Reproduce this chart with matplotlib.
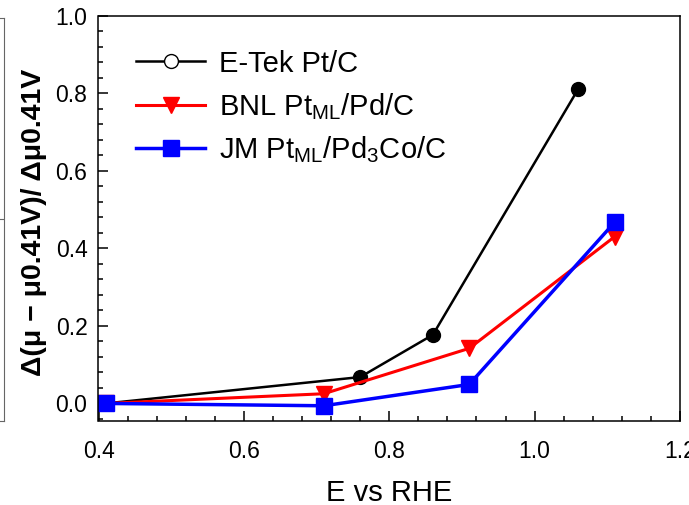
import numpy as np
import matplotlib
matplotlib.use('Agg')
import matplotlib.pyplot as plt
from matplotlib.lines import Line2D
from matplotlib.ticker import MultipleLocator, FormatStrFormatter

plt.rcParams['font.family'] = ['Liberation Sans', 'DejaVu Sans']
plt.rcParams['mathtext.fontset'] = 'custom'
plt.rcParams['mathtext.rm'] = 'Liberation Sans'
plt.rcParams['mathtext.default'] = 'regular'

# data
etek_x = [0.41, 0.76, 0.86, 1.06]
etek_y = [0.0, 0.068, 0.177, 0.811]
bnl_x = [0.41, 0.71, 0.91, 1.11]
bnl_y = [0.0, 0.025, 0.142, 0.43]
jm_x = [0.41, 0.71, 0.91, 1.11]
jm_y = [0.0, -0.006, 0.049, 0.467]

labels = ['E-Tek Pt/C', 'BNL Pt$_{ML}$/Pd/C', 'JM Pt$_{ML}$/Pd$_3$Co/C']

fig = plt.figure(figsize=(6.89, 5.05), dpi=100)
ax = fig.add_axes([98.5 / 689, 1 - 420.5 / 505, (680 - 98.5) / 689, (420.5 - 15.7) / 505])

# bit of the neighbouring panel frame at the far left edge
nb = fig.add_axes([-0.5, 1 - 421 / 505, 0.5 + 3.5 / 689, (421 - 18) / 505])
nb.set_xlim(0, 1)
nb.set_ylim(0, 2)
nb.set_xticks([])
nb.set_yticks([1])
nb.yaxis.tick_right()
nb.tick_params(axis='y', direction='in', length=4, width=0.8, colors='#666666', labelright=False)
nb.spines['left'].set_visible(False)
for s in ['top', 'right', 'bottom']:
    nb.spines[s].set_color('#666666')
    nb.spines[s].set_linewidth(0.8)

ax.plot(etek_x, etek_y, color='black', lw=1.8, marker='o', ms=10)
ax.plot(bnl_x, bnl_y, color='red', lw=2.2, marker='v', ms=11)
ax.plot(jm_x, jm_y, color='blue', lw=2.5, marker='s', ms=11.5)

ax.set_xlim(0.4, 1.2)
ax.set_ylim(-0.044, 1.0)
ax.xaxis.set_major_locator(MultipleLocator(0.2))
ax.xaxis.set_minor_locator(MultipleLocator(0.04))
ax.yaxis.set_major_locator(MultipleLocator(0.2))
ax.yaxis.set_minor_locator(MultipleLocator(0.04))
ax.xaxis.set_major_formatter(FormatStrFormatter('%.1f'))
ax.yaxis.set_major_formatter(FormatStrFormatter('%.1f'))
ax.tick_params(which='both', direction='in', top=False, right=False, width=1.1, labelsize=16.5)
ax.tick_params(which='major', length=7)
ax.tick_params(which='minor', length=3.5)
ax.tick_params(axis='x', pad=14)
ax.tick_params(axis='y', pad=8)
for s in ax.spines.values():
    s.set_linewidth(1.1)

ax.set_xlabel('E vs RHE', fontsize=21, va='baseline')
ax.xaxis.set_label_coords(0.5, -0.2)
ax.set_ylabel('Δ(μ − μ0.41V)/ Δμ0.41V', fontsize=20.5, fontweight='bold')
ax.yaxis.set_label_coords(-0.089, 0.49)

handles = [
    Line2D([], [], color='black', lw=1.8, marker='o', ms=10, mfc='white', mec='black', mew=1),
    Line2D([], [], color='red', lw=2.2, marker='v', ms=11),
    Line2D([], [], color='blue', lw=2.5, marker='s', ms=11.5),
]
ax.legend(handles, labels, loc='upper left', bbox_to_anchor=(0.045, 0.945), frameon=False,
          fontsize=21, handlelength=2.35, handletextpad=0.5, labelspacing=0.45,
          borderaxespad=0)

fig.savefig('out.png', dpi=100)
